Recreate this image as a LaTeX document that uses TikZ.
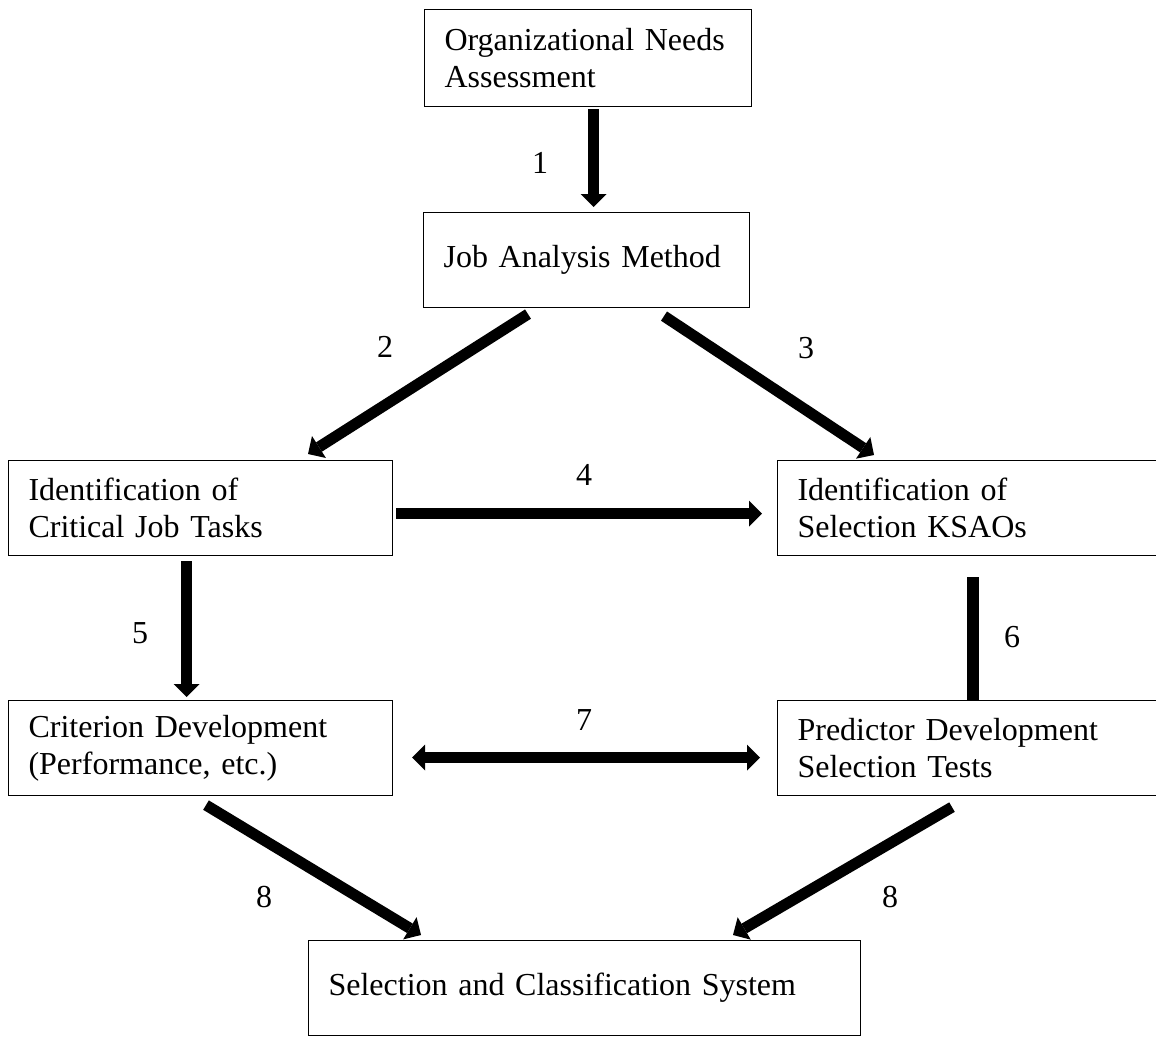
\documentclass[tikz,border=0pt]{standalone}
\usepackage{fontspec}
\setmainfont{Liberation Serif}
\usetikzlibrary{arrows.meta,calc}
\begin{document}
\begin{tikzpicture}[x=1pt,y=-1pt,
  >={Triangle[width=26pt,length=13pt,line width=0pt]},
  box/.style={draw=black, line width=1.1pt, anchor=north west, inner xsep=20pt, inner ysep=0pt, align=left, font=\fontsize{32}{37}\selectfont},
  conn/.style={line width=11pt, ->},
  lbl/.style={font=\fontsize{32}{37}\selectfont, inner sep=0pt}]
\useasboundingbox (0,0) rectangle (1156,1036);
% boxes
\node[box, text width=287pt, minimum height=97pt] (ona) at (424,9) {Organizational Needs\\Assessment};
\node[box, text width=286pt, minimum height=95pt] (job) at (423,212) {Job Analysis Method};
\node[box, text width=344pt, minimum height=95pt] (crit) at (8,460) {Identification of\\Critical Job Tasks};
\node[box, text width=343pt, minimum height=95pt] (ksao) at (777,460) {Identification of\\Selection KSAOs};
\node[box, text width=344pt, minimum height=95pt] (crdev) at (8,700) {Criterion Development\\(Performance, etc.)};
\node[box, text width=343pt, minimum height=95pt] (pred) at (777,700) {Predictor Development\\Selection Tests};
\node[box, text width=512pt, minimum height=95pt] (sys) at (308,940) {Selection and Classification System};
% connectors
\draw[conn] ($(ona.south)+(5.5,2)$) -- ($(job.north)+(7,-5)$);
\draw[conn] ($(job.south west)+(105,6)$) -- ($(crit.north west)+(300,-6)$);
\draw[conn] ($(job.south west)+(241,8)$) -- ($(ksao.north west)+(97,-5)$);
\draw[conn] ($(crit.east)+(3,5.5)$) -- ($(ksao.west)+(-15,5.5)$);
\draw[conn] ($(crit.south)+(-14,5)$) -- ($(crdev.north)+(-14,-3)$);
\draw[line width=12pt] ($(ksao.south)+(3.5,21)$) -- ($(pred.north)+(3.5,0)$);
\draw[line width=11pt, <->] ($(crdev.east)+(19,9.5)$) -- ($(pred.west)+(-17,9.5)$);
\draw[conn] ($(crdev.south west)+(198,9)$) -- ($(sys.north west)+(113,-5)$);
\draw[conn] ($(pred.south west)+(175,11)$) -- ($(sys.north west)+(425,-5)$);
% labels
\node[lbl] (l1) at (540,163) {1};
\node[lbl] (l2) at (385,347) {2};
\node[lbl] (l3) at (806,348) {3};
\node[lbl] (l4) at (584,475) {4};
\node[lbl] (l5) at (140,633) {5};
\node[lbl] (l6) at (1012,637) {6};
\node[lbl] (l7) at (584,720) {7};
\node[lbl] (l8a) at (264,897) {8};
\node[lbl] (l8b) at (890,897) {8};
\end{tikzpicture}
\end{document}
